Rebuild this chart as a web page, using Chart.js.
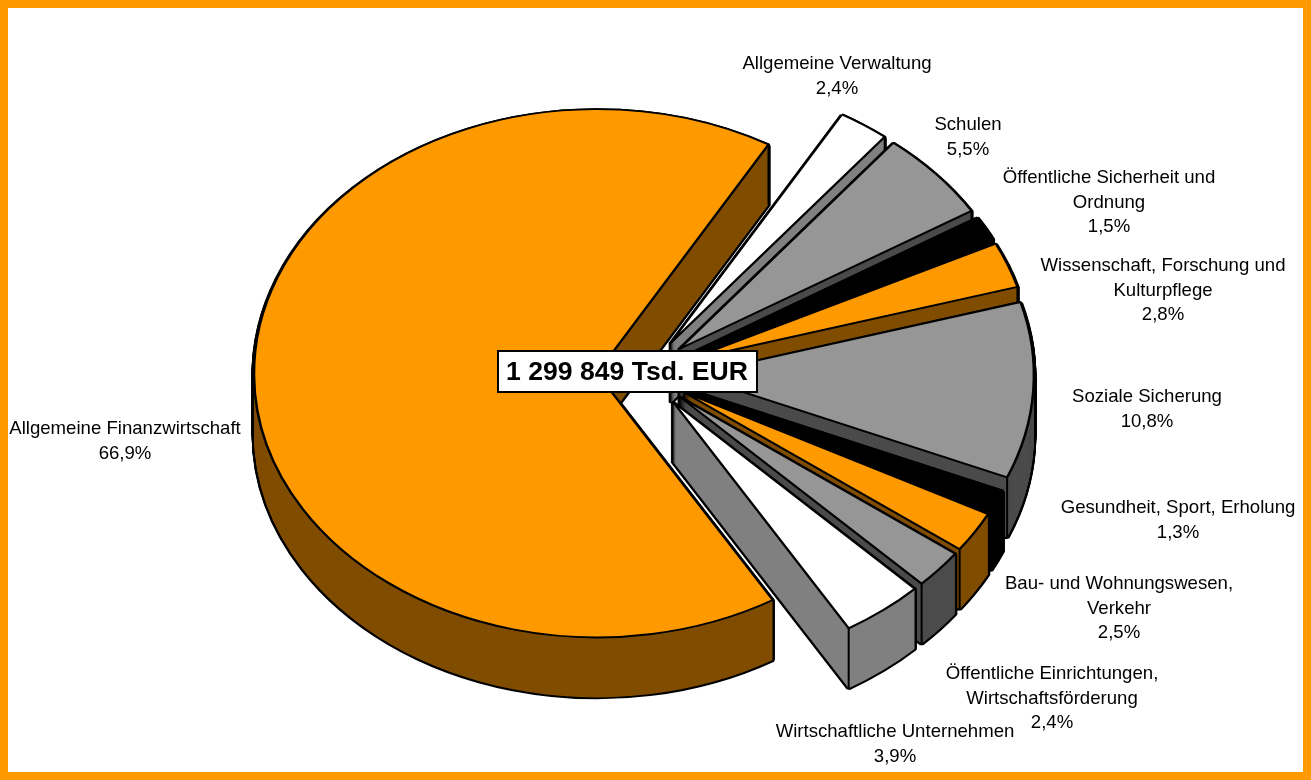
<!DOCTYPE html>
<html><head><meta charset="utf-8">
<script src="https://cdn.jsdelivr.net/npm/chart.js@4"></script>
<style>html,body{margin:0;padding:0;background:#fff;overflow:hidden}
#w{position:absolute;left:0;top:0;width:1311px;height:780px}</style></head>
<body><div id="w"><canvas id="c" width="1311" height="780"></canvas></div>
<script>
const categories=["Allgemeine Verwaltung","Schulen","Öffentliche Sicherheit und Ordnung","Wissenschaft, Forschung und Kulturpflege","Soziale Sicherung","Gesundheit, Sport, Erholung","Bau- und Wohnungswesen, Verkehr","Öffentliche Einrichtungen, Wirtschaftsförderung","Wirtschaftliche Unternehmen","Allgemeine Finanzwirtschaft"];
const values=[2.4,5.5,1.5,2.8,10.8,1.3,2.5,2.4,3.9,66.9];
const valueTexts=["2,4%","5,5%","1,5%","2,8%","10,8%","1,3%","2,5%","2,4%","3,9%","66,9%"];
const labelLines=[["Allgemeine Verwaltung"],["Schulen"],["Öffentliche Sicherheit und","Ordnung"],["Wissenschaft, Forschung und","Kulturpflege"],["Soziale Sicherung"],["Gesundheit, Sport, Erholung"],["Bau- und Wohnungswesen,","Verkehr"],["Öffentliche Einrichtungen,","Wirtschaftsförderung"],["Wirtschaftliche Unternehmen"],["Allgemeine Finanzwirtschaft"]];
const centerText="1 299 849 Tsd. EUR";

const faceColors=["#FFFFFF","#969696","#000000","#FF9900","#969696","#000000","#FF9900","#969696","#FFFFFF","#FF9900"];
const wallColors=["#808080","#4B4B4B","#000000","#804D00","#4B4B4B","#000000","#804D00","#4B4B4B","#808080","#804D00"];
const labelAt=[[837,64],[968,125],[1109,178],[1163,266],[1147,397],[1178,508],[1119,584],[1052,674],[895,732],[125,429]];
const drawOrder=[9,0,1,2,3,4,5,6,7,8];
const LOOK={radius:343,explode:47,squash:0.77,depth:60,cx:644,cy:373,frame:8,line:2.5,lineH:24.5};

function place(ctx,a,dy){
  ctx.translate(LOOK.cx,LOOK.cy+dy);
  ctx.scale(1,LOOK.squash);
  ctx.translate(-a.x,-a.y);
}
function drawArc(ctx,arc,opts,dy,shift){
  const saved=arc.options;
  arc.options=Object.assign({},saved,opts);
  ctx.save();
  place(ctx,arc,dy);
  ctx.translate(shift.x,shift.y);
  arc.draw(ctx);
  ctx.restore();
  arc.options=saved;
}
const pie3d={
  id:'pie3d',
  beforeDatasetsDraw(chart){
    const ctx=chart.ctx,arcs=chart.getDatasetMeta(0).data;
    drawOrder.forEach(i=>{
      const arc=arcs[i],mid=(arc.startAngle+arc.endAngle)/2;
      const shift={x:Math.cos(mid)*LOOK.explode,y:Math.sin(mid)*LOOK.explode};
      for(let d=LOOK.depth;d>=1;d--) drawArc(ctx,arc,{backgroundColor:'#000',borderColor:'#000',borderWidth:LOOK.line*2},d,shift);
      for(let d=LOOK.depth;d>=1;d--) drawArc(ctx,arc,{backgroundColor:wallColors[i],borderWidth:0},d,shift);
      const t=arc.endAngle;
      const X=LOOK.cx+shift.x+Math.cos(t)*arc.outerRadius,Y=LOOK.cy+(shift.y+Math.sin(t)*arc.outerRadius)*LOOK.squash;
      ctx.save();ctx.strokeStyle='#000';ctx.lineWidth=2;
      ctx.beginPath();ctx.moveTo(X,Y);ctx.lineTo(X,Y+LOOK.depth);ctx.stroke();
      ctx.restore();
      drawArc(ctx,arc,{backgroundColor:faceColors[i],borderColor:'#000',borderWidth:LOOK.line},0,shift);
    });
    return false;
  },
  afterDraw(chart){
    const ctx=chart.ctx;
    ctx.save();
    ctx.strokeStyle='#FF9900';ctx.lineWidth=LOOK.frame*2;
    ctx.strokeRect(0,0,chart.width,chart.height);
    ctx.fillStyle='#000';ctx.textAlign='center';ctx.textBaseline='middle';
    ctx.font='18.6px "Liberation Sans",Arial,sans-serif';
    categories.forEach((c,i)=>{
      const lines=labelLines[i].concat(valueTexts[i]);
      lines.forEach((t,k)=>ctx.fillText(t,labelAt[i][0],labelAt[i][1]+k*LOOK.lineH));
    });
    ctx.fillStyle='#fff';ctx.fillRect(498,351,259,41);
    ctx.strokeStyle='#000';ctx.lineWidth=2;ctx.strokeRect(498,351,259,41);
    ctx.fillStyle='#000';ctx.font='bold 26.6px "Liberation Sans",Arial,sans-serif';
    ctx.fillText(centerText,627,373);
    ctx.restore();
  }
};
new Chart(document.getElementById('c'),{
  type:'pie',
  data:{labels:categories,datasets:[{data:values,backgroundColor:faceColors,borderColor:'#000',borderWidth:LOOK.line,offset:0}]},
  options:{responsive:false,animation:false,rotation:30,radius:LOOK.radius,
    layout:{padding:0},
    plugins:{legend:{display:false},tooltip:{enabled:false}}},
  plugins:[pie3d]
});
</script></body></html>
